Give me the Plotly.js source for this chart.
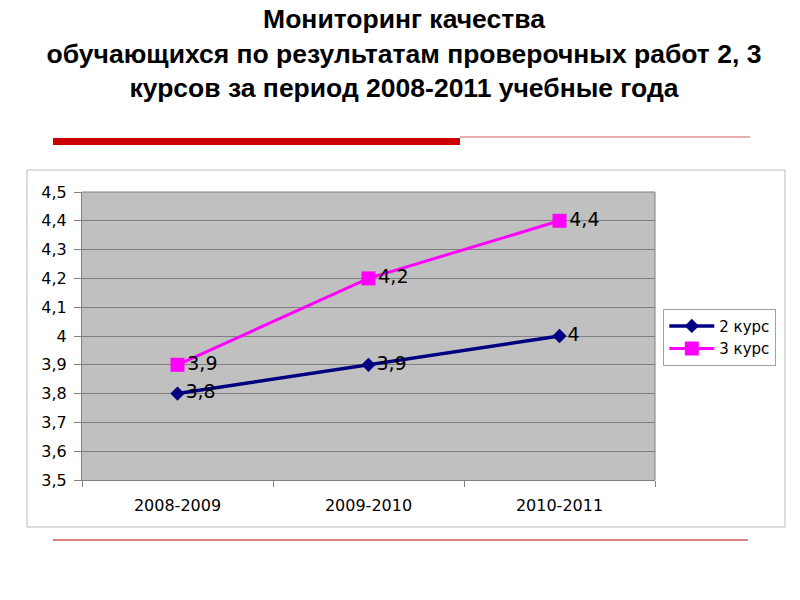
<!DOCTYPE html>
<html><head><meta charset="utf-8">
<script src="https://cdn.plot.ly/plotly-3.0.1.min.js"></script>
<style>html,body{margin:0;padding:0;background:#fff;}#chart{width:800px;height:600px;}</style>
</head><body><div id="chart"></div>
<script>
const categories = ["2008-2009", "2009-2010", "2010-2011"];
const seriesNames = ["2 курс", "3 курс"];
const course2 = [3.8, 3.9, 4.0];
const course3 = [3.9, 4.2, 4.4];
const course2Labels = ["3,8", "3,9", "4"];
const course3Labels = ["3,9", "4,2", "4,4"];
const yTickVals = [3.5, 3.6, 3.7, 3.8, 3.9, 4.0, 4.1, 4.2, 4.3, 4.4, 4.5];
const yTickText = ["3,5", "3,6", "3,7", "3,8", "3,9", "4", "4,1", "4,2", "4,3", "4,4", "4,5"];
const titleText = "Мониторинг качества<br>обучающихся по результатам проверочных работ 2, 3<br>курсов за период 2008-2011 учебные года";

const traces = [
  {x: categories, y: course2, name: seriesNames[0], type: "scatter", mode: "lines+markers+text",
   text: course2Labels, textposition: "middle right", cliponaxis: false,
   textfont: {family: "DejaVu Sans", size: 19, color: "#000"},
   line: {color: "#000080", width: 3.5}, marker: {symbol: "diamond", size: 11, color: "#000080"}},
  {x: categories, y: course3, name: seriesNames[1], type: "scatter", mode: "lines+markers+text",
   text: course3Labels, textposition: "middle right", cliponaxis: false,
   textfont: {family: "DejaVu Sans", size: 19, color: "#000"},
   line: {color: "#ff00ff", width: 3}, marker: {symbol: "square", size: 14, color: "#ff00ff"}}
];

const layout = {
  width: 800, height: 600,
  margin: {l: 82, r: 145, t: 192, b: 120},
  paper_bgcolor: "#ffffff", plot_bgcolor: "#c0c0c0",
  title: {text: titleText, x: 0.505, xanchor: "center", y: 0.953, yanchor: "middle", yref: "container",
          font: {family: "Liberation Sans, Arial", size: 26.5, color: "#000", weight: "bold"}},
  showlegend: true,
  legend: {x: 1.0145, y: 0.595, xanchor: "left", yanchor: "top", bgcolor: "#fff",
           bordercolor: "#a0a0a0", borderwidth: 1, font: {family: "DejaVu Sans", size: 15, color: "#000"},
           itemwidth: 45, tracegroupgap: 2},
  xaxis: {type: "category", range: [-0.5, 2.5], showgrid: false, showline: true, linecolor: "#808080", linewidth: 1,
          ticks: "outside", tickson: "boundaries", ticklen: 6, tickcolor: "#808080", ticklabelstandoff: 11,
          tickfont: {family: "DejaVu Sans", size: 16, color: "#000"}, zeroline: false},
  yaxis: {range: [3.5, 4.5], tickvals: yTickVals, ticktext: yTickText, showgrid: true, gridcolor: "#808080", gridwidth: 1,
          showline: true, linecolor: "#808080", ticks: "outside", ticklen: 7, tickcolor: "#808080", ticklabelstandoff: 4,
          tickfont: {family: "DejaVu Sans", size: 16, color: "#000"}, zeroline: false},
  shapes: [
    {type: "rect", xref: "paper", yref: "paper", x0: (27-82)/573, x1: (785-82)/573, y0: (480-527)/288, y1: (480-170)/288,
     line: {color: "#bbbbbb", width: 1}, fillcolor: "rgba(0,0,0,0)", layer: "below"},
    {type: "line", xref: "paper", yref: "paper", x0: 1, x1: 1, y0: 0, y1: 1, line: {color: "#808080", width: 1}},
    {type: "line", xref: "paper", yref: "paper", x0: 0, x1: 1, y0: 1, y1: 1, line: {color: "#808080", width: 1}},
    {type: "rect", xref: "paper", yref: "paper", x0: (53-82)/573, x1: (460-82)/573, y0: (480-145)/288, y1: (480-138)/288,
     line: {width: 0}, fillcolor: "#cc0000"},
    {type: "line", xref: "paper", yref: "paper", x0: (460-82)/573, x1: (750-82)/573, y0: (480-137)/288, y1: (480-137)/288,
     line: {color: "#d06060", width: 1}},
    {type: "line", xref: "paper", yref: "paper", x0: (53-82)/573, x1: (748-82)/573, y0: (480-540)/288, y1: (480-540)/288,
     line: {color: "#d98080", width: 2}}
  ]
};

Plotly.newPlot("chart", traces, layout, {displayModeBar: false, staticPlot: true});
</script></body></html>
